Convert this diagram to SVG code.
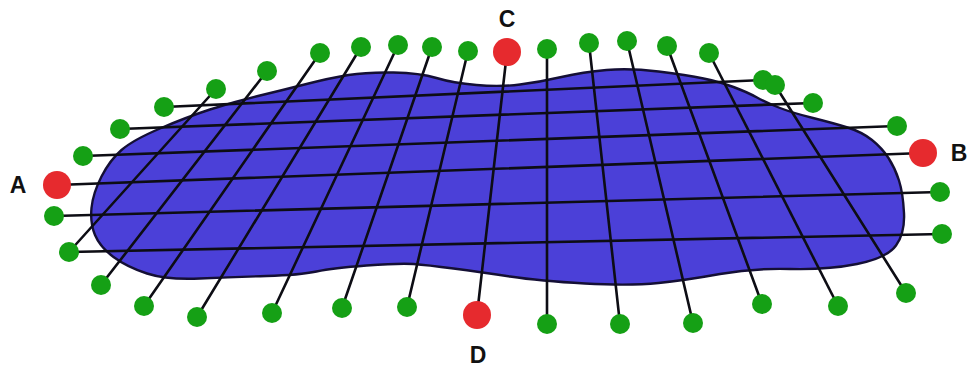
<svg xmlns="http://www.w3.org/2000/svg" width="970" height="369" viewBox="0 0 970 369">
<style>
.blob{fill:#4b40d8;stroke:#140f35;stroke-width:2.4}
.ln{stroke:#0d0d14;stroke-width:2.6;fill:none;stroke-linecap:round}
.g{fill:#15a015}
.r{fill:#e62a2e}
.lbl{font-family:"Liberation Sans",Arial,sans-serif;font-weight:bold;font-size:23px;fill:#111;text-anchor:middle}
</style>
<g id="surface">
<path class="blob" d="M91.5,208 Q93,193 101.5,176.5 Q110,160 121.5,150 Q133,140 160,128.5 Q187,117 210,109.5 Q233,102 258,96 Q283,90 306.5,84 Q330,78 348.5,75 Q367,72 393.5,72.5 Q420,73 436.5,78 Q453,83 476.5,85 Q500,87 520,84.5 Q540,82 561.5,77 Q583,72 606.5,70 Q630,68 658.5,71.5 Q687,75 703.5,78.5 Q720,82 733.5,87 Q747,92 757,97.5 Q767,103 780,108 Q793,113 813,118 Q833,123 847.5,127.5 Q862,132 872,140 Q882,148 888.5,158 Q895,168 899,180.5 Q903,193 904,213 Q905,233 896,245.5 Q887,258 857,264 Q827,270 790,269 Q753,268 720,274 Q687,280 658.5,283 Q630,286 585,283.5 Q540,281 510,276.5 Q480,272 453.5,268.5 Q427,265 413.5,264 Q400,263 366.5,265.5 Q333,268 316.5,271.5 Q300,275 266.5,276 Q233,277 200,278.5 Q167,280 147,273.5 Q127,267 113.5,257 Q100,247 95,235 Q90,223 91.5,208 Z"/>
</g>
<g id="connectors">
<line class="ln" x1="164" y1="107" x2="763" y2="80"/>
<line class="ln" x1="120" y1="129" x2="813" y2="103"/>
<line class="ln" x1="83" y1="156" x2="897" y2="126"/>
<line class="ln" x1="57" y1="185" x2="923" y2="153"/>
<line class="ln" x1="54" y1="216" x2="940" y2="192"/>
<line class="ln" x1="69" y1="252" x2="942" y2="234"/>
<line class="ln" x1="216" y1="89" x2="69" y2="252"/>
<line class="ln" x1="267" y1="71" x2="101" y2="285"/>
<line class="ln" x1="320" y1="53" x2="144" y2="306"/>
<line class="ln" x1="361" y1="47" x2="197" y2="317"/>
<line class="ln" x1="398" y1="45" x2="272" y2="313"/>
<line class="ln" x1="432" y1="47" x2="342" y2="308"/>
<line class="ln" x1="468" y1="51" x2="407" y2="307"/>
<line class="ln" x1="507" y1="52" x2="477" y2="315"/>
<line class="ln" x1="547" y1="49" x2="547" y2="324"/>
<line class="ln" x1="589" y1="43" x2="620" y2="324"/>
<line class="ln" x1="627" y1="41" x2="693" y2="323"/>
<line class="ln" x1="667" y1="46" x2="762" y2="304"/>
<line class="ln" x1="709" y1="53" x2="838" y2="306"/>
<line class="ln" x1="775" y1="85" x2="906" y2="293"/>
</g>
<g id="green-points" class="g">
<circle cx="164" cy="107" r="10"/>
<circle cx="120" cy="129" r="10"/>
<circle cx="83" cy="156" r="10"/>
<circle cx="54" cy="216" r="10"/>
<circle cx="69" cy="252" r="10"/>
<circle cx="763" cy="80" r="10"/>
<circle cx="813" cy="103" r="10"/>
<circle cx="897" cy="126" r="10"/>
<circle cx="940" cy="192" r="10"/>
<circle cx="942" cy="234" r="10"/>
<circle cx="216" cy="89" r="10"/>
<circle cx="267" cy="71" r="10"/>
<circle cx="320" cy="53" r="10"/>
<circle cx="361" cy="47" r="10"/>
<circle cx="398" cy="45" r="10"/>
<circle cx="432" cy="47" r="10"/>
<circle cx="468" cy="51" r="10"/>
<circle cx="547" cy="49" r="10"/>
<circle cx="589" cy="43" r="10"/>
<circle cx="627" cy="41" r="10"/>
<circle cx="667" cy="46" r="10"/>
<circle cx="709" cy="53" r="10"/>
<circle cx="775" cy="85" r="10"/>
<circle cx="101" cy="285" r="10"/>
<circle cx="144" cy="306" r="10"/>
<circle cx="197" cy="317" r="10"/>
<circle cx="272" cy="313" r="10"/>
<circle cx="342" cy="308" r="10"/>
<circle cx="407" cy="307" r="10"/>
<circle cx="547" cy="324" r="10"/>
<circle cx="620" cy="324" r="10"/>
<circle cx="693" cy="323" r="10"/>
<circle cx="762" cy="304" r="10"/>
<circle cx="838" cy="306" r="10"/>
<circle cx="906" cy="293" r="10"/>
</g>
<g id="node-A"><circle class="r" cx="57" cy="185" r="14"/><text class="lbl" x="18" y="193">A</text></g>
<g id="node-B"><circle class="r" cx="923" cy="153" r="14"/><text class="lbl" x="959" y="161">B</text></g>
<g id="node-C"><circle class="r" cx="507" cy="52" r="14"/><text class="lbl" x="507" y="27">C</text></g>
<g id="node-D"><circle class="r" cx="477" cy="315" r="14"/><text class="lbl" x="478" y="363">D</text></g>
</svg>
